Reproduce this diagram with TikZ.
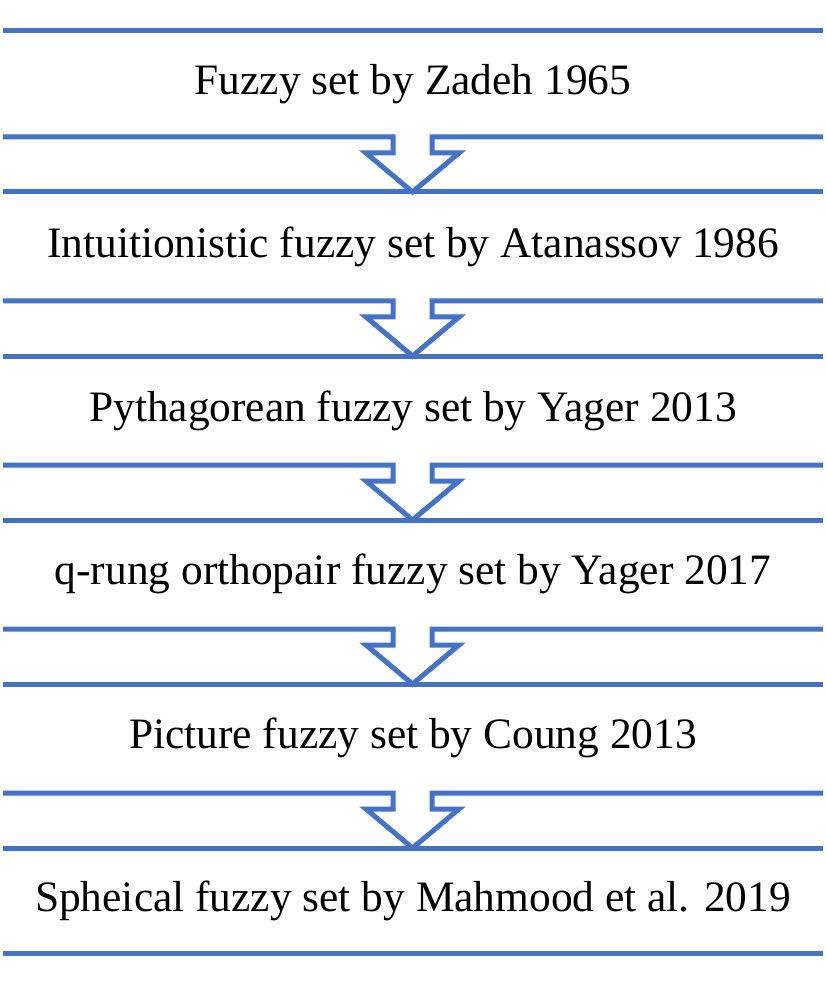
\documentclass[tikz,border=0pt]{standalone}
\usepackage{fontspec}
\setmainfont{Liberation Serif}
\usepackage{tikz}
\usetikzlibrary{calc}
\definecolor{barblue}{RGB}{68,114,196}

\begin{document}
\begin{tikzpicture}[x=0.5pt, y=-0.5pt,
		bar/.style={draw=barblue, line width=2.5pt, line join=miter},
		stage/.style={font=\fontsize{21.7}{26}\selectfont, inner sep=0pt, anchor=base}]
			\useasboundingbox (0, 0) rectangle (826, 989);

			\draw[bar](3, 31)--(823, 31);
			\foreach \i in {0,...,4}{
				\pgfmathsetmacro{\yup}{137+164*\i}
				\draw[bar](3, \yup)--(393, \yup)--(393, \yup+16)--(366, \yup+16)--(412.5, \yup+55)
					--(459, \yup+16)--(432, \yup+16)--(432, \yup)--(823, \yup);
				\draw[bar](3, \yup+55)--(823, \yup+55);
			}
			\draw[bar](3, 953)--(823, 953);

			\node[stage] (zadeh) at (413, 95) {Fuzzy set by Zadeh 1965};
			\node[stage] (atanassov) at (413, 258) {Intuitionistic fuzzy set by Atanassov 1986};
			\node[stage] (pythagorean) at (413, 421) {Pythagorean fuzzy set by Yager 2013};
			\node[stage] (qrung) at (413, 584) {q-rung orthopair fuzzy set by Yager 2017};
			\node[stage] (picture) at (413, 748) {Picture fuzzy set by Coung 2013};
			\node[stage] (spherical) at (413, 911) {Spheical fuzzy set by Mahmood et al. 2019};
		\end{tikzpicture}
\end{document}
